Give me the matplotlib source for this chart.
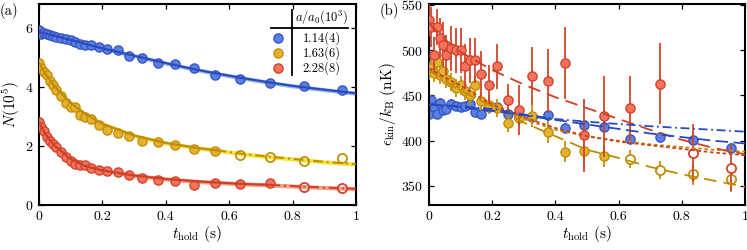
import matplotlib
matplotlib.use("Agg")
import matplotlib.pyplot as plt
from matplotlib.lines import Line2D
from matplotlib.ticker import FuncFormatter
import numpy as np

plt.rcParams['font.family'] = 'serif'
plt.rcParams['font.serif'] = ['cmr10', 'DejaVu Serif']
plt.rcParams['mathtext.fontset'] = 'cm'
plt.rcParams['axes.formatter.use_mathtext'] = True

# hold times (s), shared by all series
t_hold = [0, 0.005, 0.015, 0.025, 0.035, 0.045, 0.055, 0.07, 0.085, 0.1, 0.115, 0.13, 0.145,
          0.165, 0.19, 0.215, 0.25, 0.285, 0.325, 0.375, 0.43, 0.49, 0.555, 0.635, 0.73, 0.835, 0.955]

# (a) atom number in 10^5
n_blue = [5.93, 5.80, 5.82, 5.80, 5.76, 5.73, 5.68, 5.65, 5.60, 5.57, 5.50, 5.44, 5.40, 5.42,
          5.35, 5.28, 5.23, 5.05, 4.97, 4.82, 4.77, 4.62, 4.40, 4.27, 4.12, 4.02, 3.90]
n_yellow = [4.80, 4.65, 4.50, 4.40, 4.20, 4.05, 3.90, 3.70, 3.45, 3.30, 3.32, 3.05, 2.98, 2.92,
            2.72, 2.55, 2.45, 2.33, 2.18, 2.12, 2.03, 1.90, 1.83, 1.69, 1.63, 1.50, 1.58]
n_red = [2.80, 2.65, 2.50, 2.30, 2.18, 2.05, 1.95, 1.80, 1.62, 1.50, 1.38, 1.36, 1.35, 1.25,
         1.20, 1.14, 1.10, 1.00, 0.92, 0.86, 0.80, 0.69, 0.75, 0.71, 0.76, 0.60, 0.57]

# (a) fit curves
fit_t = [0, 0.02, 0.05, 0.1, 0.15, 0.2, 0.3, 0.4, 0.5, 0.56, 0.65, 0.73, 0.8, 0.9, 1.0]
fit_n_blue = [5.85, 5.80, 5.72, 5.58, 5.44, 5.30, 5.05, 4.80, 4.57, 4.45, 4.28, 4.14, 4.03, 3.90, 3.78]
fit_n_yellow = [4.80, 4.45, 4.00, 3.45, 3.05, 2.75, 2.35, 2.10, 1.93, 1.85, 1.72, 1.63, 1.56, 1.46, 1.38]
fit_n_red = [2.80, 2.40, 2.00, 1.55, 1.30, 1.17, 1.00, 0.88, 0.80, 0.76, 0.71, 0.68, 0.64, 0.59, 0.55]

# (b) kinetic energy (nK) with error bars
e_blue = [430, 445, 437, 430, 442, 434, 435, 441, 438, 437, 438, 441, 432, 429,
          437, 437, 430, 426, 426, 428, 414, 417, 415, 402, 404, 401, 392]
e_yellow = [477, 480, 475, 487, 473, 477, 468, 465, 458, 461, 455, 450, 461, 444,
            440, 436, 420, 425, 427, 410, 388, 389, 383, 380, 368, 363, 358]
e_red = [533, 526, 495, 526, 513, 506, 495, 502, 500, 500, 482, 489, 489, 474,
         462, 482, 445, 434, 472, 466, 486, 406, 427, 436, 463, 386, 370]
err_blue = [5, 5, 5, 5, 5, 5, 5, 5, 5, 5, 5, 5, 5, 5, 5, 5, 5, 6, 6, 6, 6, 6, 6, 6, 6, 6, 6]
err_yellow = [10, 10, 10, 10, 10, 10, 10, 10, 10, 10, 10, 10, 10, 10, 10, 10, 10, 10,
              12, 12, 12, 12, 12, 10, 10, 12, 15]
err_red = [18, 22, 20, 20, 22, 25, 22, 25, 25, 25, 25, 25, 25, 25, 22, 25, 18, 28,
           32, 35, 40, 40, 45, 35, 45, 32, 25]

# (b) fit curves
fit_tb = [0, 0.05, 0.1, 0.2, 0.3, 0.4, 0.5, 0.6, 0.7, 0.8, 0.9, 1.0]
fit_e_blue_dd = [440, 439, 438, 435, 429, 424, 421, 418.5, 416, 414, 412, 410]
fit_e_blue_da = [440, 439, 437, 433, 428, 423, 418, 413, 408, 404, 400, 397]
fit_e_red_da = [530, 512, 498, 478, 462, 448, 436, 424, 412, 401, 392, 385]
fit_e_red_do = [480, 470, 461, 440, 426, 414, 405, 399, 395, 391, 387, 384]
fit_e_yel_do = [478, 468, 458, 438, 424, 412, 405, 400, 396, 393, 390, 388]
fit_e_yel_da = [478, 466, 455, 438, 420, 405, 390, 381, 371, 363, 356, 349]

legend_labels = ['1.14(4)', '1.63(6)', '2.28(8)']
n_open = [0, 4, 2]  # open markers at the end of each series

face = ['#5b80e3', '#e3b22e', '#f4735d']
edge = ['#3656c4', '#c48f08', '#d2442c']
line = ['#2a4bbd', '#c08c05', '#cf3f22']
band = ['#9ab8f5', '#f3e33a', '#f4a08a']

t = np.array(t_hold)
ft = np.array(fit_t)
MS = 6.6

fig = plt.figure(figsize=(7.47, 2.5), dpi=100)
ax1 = fig.add_axes([39 / 747, 45 / 250, 317 / 747, 201 / 250])
ax2 = fig.add_axes([429 / 747, 45 / 250, 316 / 747, 201 / 250])

# ---- panel (a)
series_a = [n_blue, n_yellow, n_red]
fits_a = [fit_n_blue, fit_n_yellow, fit_n_red]
solid_end = [len(fit_t) - 1, 9, 11]
for i in range(3):
    y = np.array(series_a[i])
    f = np.array(fits_a[i])
    k = len(y) - n_open[i]
    ax1.fill_between(ft, f - 0.07, f + 0.07, color=band[i], lw=0, zorder=2)
    ax1.plot(t[:k], y[:k], 'o', ms=MS, mfc=face[i], mec=edge[i], mew=1.0, zorder=3)
    ax1.plot(t[k:], y[k:], 'o', ms=MS, mfc='none', mec=edge[i], mew=1.3, zorder=3)
    j = solid_end[i]
    ax1.plot(ft[:j + 1], f[:j + 1], '-', color=line[i], lw=1.6, zorder=4)
    if j < len(ft) - 1:
        ax1.plot(ft[j:], f[j:], color=line[i], lw=1.4, ls=(0, (5, 2, 1, 2)), zorder=4)

ax1.set_xlim(0, 1)
ax1.set_ylim(0, 6.8)
ax1.set_yticks([0, 2, 4, 6])
ax1.set_ylabel(r'$N(10^5)$', fontsize=11, labelpad=2)

# table-like legend
tr = ax1.transAxes
ax1.add_line(Line2D([0.732, 0.975], [0.881, 0.881], color='k', lw=1.3, transform=tr, zorder=6))
ax1.add_line(Line2D([0.797, 0.797], [0.97, 0.647], color='k', lw=1.3, transform=tr, zorder=6))
ax1.text(0.892, 0.935, r'$a/a_0(10^3)$', transform=tr, ha='center', va='center', fontsize=9)
for i, lab in enumerate(legend_labels):
    yy = [0.831, 0.756, 0.682][i]
    ax1.plot([0.754], [yy], 'o', ms=MS, mfc=face[i], mec=edge[i], mew=1.0, transform=tr,
             clip_on=False, zorder=6)
    ax1.text(0.892, yy, lab, transform=tr, ha='center', va='center', fontsize=9)

# ---- panel (b)
series_b = [e_blue, e_yellow, e_red]
errs_b = [err_blue, err_yellow, err_red]
for i in range(3):
    y = np.array(series_b[i])
    k = len(y) - n_open[i]
    ax2.errorbar(t, y, yerr=errs_b[i], fmt='none', ecolor=edge[i], elinewidth=1.3, capsize=0, zorder=2 + i)
    ax2.plot(t[:k], y[:k], 'o', ms=MS, mfc=face[i], mec=edge[i], mew=1.0, zorder=2 + i)
    ax2.plot(t[k:], y[k:], 'o', ms=MS, mfc='white', mec=edge[i], mew=1.3, zorder=2 + i)

ax2.plot(fit_tb, fit_e_yel_da, color=line[1], lw=1.3, ls=(0, (7, 4)), zorder=6)
ax2.plot(fit_tb, fit_e_yel_do, color=line[1], lw=1.3, ls=(0, (2, 1.5)), zorder=6)
ax2.plot(fit_tb, fit_e_red_da, color=line[2], lw=1.3, ls=(0, (7, 4)), zorder=6)
ax2.plot(fit_tb, fit_e_red_do, color=line[2], lw=1.3, ls=(0, (2, 1.5)), zorder=6)
ax2.plot(fit_tb, fit_e_blue_da, color=line[0], lw=1.3, ls=(0, (7, 3)), zorder=6)
ax2.plot(fit_tb, fit_e_blue_dd, color=line[0], lw=1.3, ls=(0, (5, 2, 1, 2)), zorder=6)

ax2.set_xlim(0, 1)
ax2.set_ylim(329, 551)
ax2.set_yticks([350, 400, 450, 500, 550])
ax2.set_ylabel(r'$\epsilon_{\rm kin}/k_{\rm B}$ (nK)', fontsize=11, labelpad=2)

fmt = FuncFormatter(lambda v, p: '%g' % v)
for ax in (ax1, ax2):
    ax.set_xticks([0, 0.2, 0.4, 0.6, 0.8, 1.0])
    ax.xaxis.set_major_formatter(fmt)
    ax.set_xlabel(r'$t_{\rm hold}$ (s)', fontsize=11, labelpad=1)
    ax.tick_params(direction='in', top=True, right=True, length=3.5, width=0.9,
                   labelsize=10, pad=4)
    for s in ax.spines.values():
        s.set_linewidth(1.5)

fig.text(0.0, 0.955, '(a)', fontsize=10.5, ha='left', va='center')
fig.text(380 / 747, 0.955, '(b)', fontsize=10.5, ha='left', va='center')

fig.savefig('out.png', dpi=100)
